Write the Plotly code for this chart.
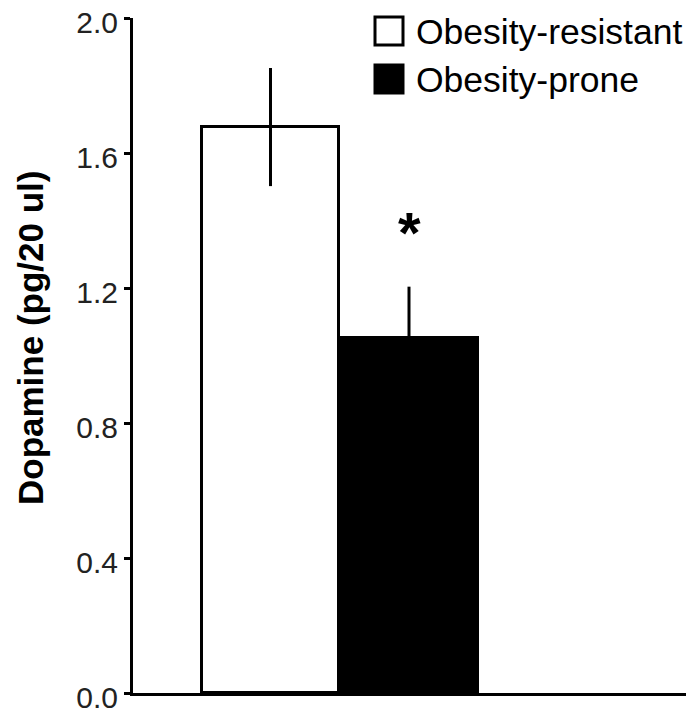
import plotly.graph_objects as go

# ---- data ----
groups = ["Obesity-resistant", "Obesity-prone"]
means = [1.677, 1.052]
sems = [0.175, 0.152]
fills = ["white", "black"]
y_ticks = [0.0, 0.4, 0.8, 1.2, 1.6, 2.0]
y_tick_labels = ["0.0", "0.4", "0.8", "1.2", "1.6", "2.0"]
sig_marks = ["", "*"]
sig_heights = [None, 1.365]
y_title = "Dopamine (pg/20 ul)"

W, H = 694, 715
OFF = 8  # page body margin offset
# target screen positions of plot area: left 133, right 694, top 18, bottom 693
L = 133 - OFF
R = W - (694 - OFF)
T = 18 - OFF
B = H - (693 - OFF)
pw, ph = W - L - R, H - T - B

def px(sx):
    return (sx - OFF - L) / pw

def py(sy):
    return (H - B - (sy - OFF)) / ph

fig = go.Figure()
xs = list(range(len(groups)))
for i, g in enumerate(groups):
    fig.add_trace(go.Bar(
        x=[xs[i]], y=[means[i]], width=0.99, name=g,
        marker=dict(color=fills[i], line=dict(color="black", width=3)),
        error_y=dict(type="data", array=[sems[i]], visible=True,
                     color="black", thickness=3, width=0),
        showlegend=False,
    ))

for i, s in enumerate(sig_marks):
    if s:
        fig.add_annotation(x=xs[i], y=sig_heights[i], text="<b>" + s + "</b>", showarrow=False,
                           font=dict(family="Liberation Sans", size=58, color="black"),
                           xanchor="center", yanchor="middle")

# legend drawn manually (large symbols)
rows_y = [31, 79]
for i, g in enumerate(groups):
    cy = rows_y[i]
    fig.add_shape(type="rect", xref="paper", yref="paper",
                  x0=px(375), x1=px(403), y0=py(cy + 14), y1=py(cy - 14),
                  line=dict(color="black", width=3), fillcolor=fills[i])
    fig.add_annotation(xref="paper", yref="paper", x=px(414), y=py(cy + 1),
                       text=g, showarrow=False, xanchor="left", yanchor="middle",
                       font=dict(family="Liberation Sans", size=35.5, color="black"))

fig.add_annotation(xref="paper", yref="paper", x=px(30), y=py(338),
                   text="<b>" + y_title + "</b>", textangle=-90, showarrow=False,
                   xanchor="center", yanchor="middle",
                   font=dict(family="Liberation Sans", size=35, color="black"))

fig.update_layout(
    width=W, height=H,
    margin=dict(l=L, r=R, t=T, b=B, autoexpand=False),
    plot_bgcolor="white", paper_bgcolor="white",
    bargap=0,
    xaxis=dict(range=[-0.993, 3.058], showticklabels=False, ticks="",
               showgrid=False, zeroline=False, showline=True, automargin=False,
               linecolor="black", linewidth=3),
    yaxis=dict(range=[0, 2.0001], tickvals=y_ticks, ticktext=y_tick_labels,
               ticks="outside", ticklen=6, tickwidth=3, tickcolor="black",
               ticklabeloverflow="allow", ticklabelshift=4,
               showgrid=False, zeroline=False, showline=True, automargin=False,
               linecolor="black", linewidth=3,
               tickfont=dict(family="Liberation Sans", size=30, color="#222")),
)

fig.write_html("out.html")
